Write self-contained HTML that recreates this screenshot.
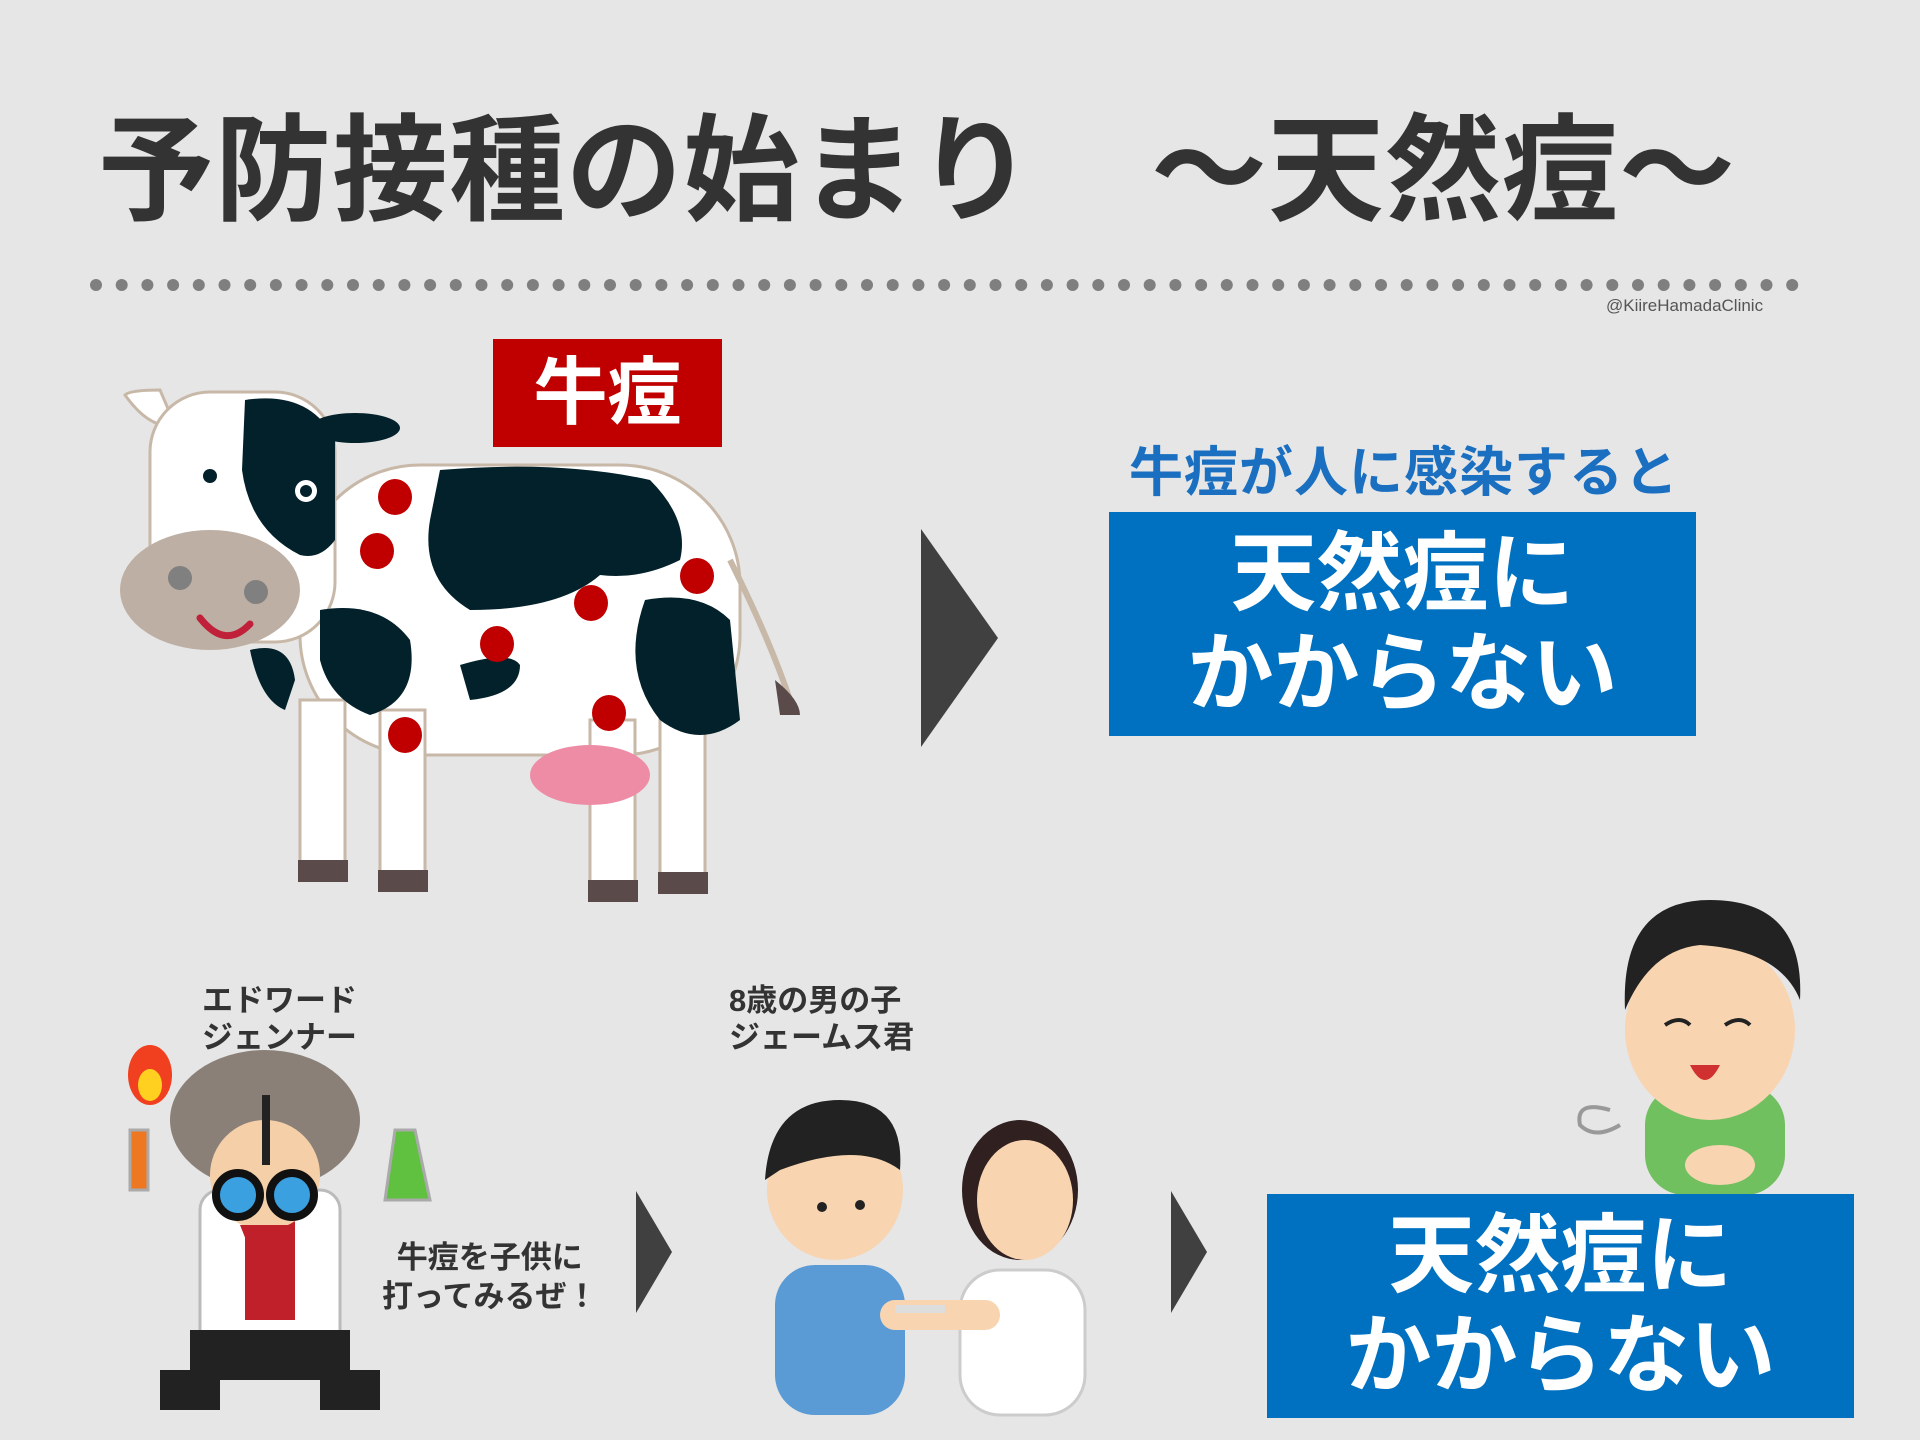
<!DOCTYPE html>
<html><head><meta charset="utf-8">
<style>
html,body{margin:0;padding:0}
body{width:1920px;height:1440px;background:#e6e6e6;position:relative;overflow:hidden;font-family:"Liberation Sans","Noto Sans CJK JP",sans-serif}
.t{position:absolute;white-space:nowrap;font-weight:bold}
.box{position:absolute;background:#0070c0;color:#fff;font-weight:bold;text-align:center}
</style></head><body>
<div class="t" style="left:98px;top:106px;font-size:116px;line-height:130px;color:#333;letter-spacing:1px">予防接種の始まり　～天然痘～</div>
<svg width="1920" height="1440" style="position:absolute;left:0;top:0">
<g fill="#7f7f7f" id="dots"></g>
<polygon points="921,529 998,638 921,747" fill="#404040"/>
<polygon points="636,1191 672,1252 636,1313" fill="#404040"/>
<polygon points="1171,1191 1207,1252 1171,1313" fill="#404040"/>
<g stroke="#c8b8a8" stroke-width="3">
<rect x="300" y="465" width="440" height="290" rx="120" fill="#fff"/>
<rect x="300" y="700" width="45" height="170" fill="#fff"/>
<rect x="380" y="710" width="45" height="170" fill="#fff"/>
<rect x="590" y="720" width="45" height="170" fill="#fff"/>
<rect x="660" y="710" width="45" height="170" fill="#fff"/>
<path d="M730 560 Q770 640 790 700" fill="none" stroke-width="6"/>
<path d="M160 390 Q130 390 125 395 Q150 430 175 425Z" fill="#fff"/>
<rect x="150" y="392" width="185" height="250" rx="60" fill="#fff"/>
</g>
<rect x="298" y="860" width="50" height="22" fill="#5a4a4a"/>
<rect x="378" y="870" width="50" height="22" fill="#5a4a4a"/>
<rect x="588" y="880" width="50" height="22" fill="#5a4a4a"/>
<rect x="658" y="872" width="50" height="22" fill="#5a4a4a"/>
<path d="M775 680 Q800 700 800 715 L780 715Z" fill="#5a4a4a"/>
<ellipse cx="590" cy="775" rx="60" ry="30" fill="#ee8ca5"/>
<g fill="#03212a">
<path d="M245 400 Q310 390 335 440 L335 540 Q320 560 300 555 Q250 530 242 470Z"/>
<ellipse cx="355" cy="428" rx="45" ry="15"/>
<path d="M440 470 Q560 460 650 480 Q690 520 680 560 Q640 580 600 575 Q560 610 470 610 Q420 580 430 520Z"/>
<path d="M320 610 Q380 600 410 640 Q420 700 370 715 Q330 700 320 660Z"/>
<path d="M460 665 Q510 650 520 665 Q520 695 470 700Z"/>
<path d="M645 600 Q700 590 730 620 L740 720 Q700 750 660 720 Q620 670 645 600Z"/>
<path d="M250 650 Q290 640 295 680 L285 710 Q260 700 250 650Z"/>
</g>
<circle cx="306" cy="491" r="11" fill="#fff"/><circle cx="306" cy="491" r="6" fill="#03212a"/>
<circle cx="210" cy="476" r="7" fill="#03212a"/>
<ellipse cx="210" cy="590" rx="90" ry="60" fill="#bdafa3"/>
<circle cx="180" cy="578" r="12" fill="#808080"/><circle cx="256" cy="592" r="12" fill="#808080"/>
<path d="M200 618 Q225 650 250 624" stroke="#c0203a" stroke-width="7" fill="none" stroke-linecap="round"/>
<g fill="#c00000">
<ellipse cx="395" cy="497" rx="17" ry="18"/><ellipse cx="377" cy="551" rx="17" ry="18"/>
<ellipse cx="697" cy="576" rx="17" ry="18"/><ellipse cx="591" cy="603" rx="17" ry="18"/>
<ellipse cx="497" cy="644" rx="17" ry="18"/><ellipse cx="609" cy="713" rx="17" ry="18"/>
<ellipse cx="405" cy="735" rx="17" ry="18"/>
</g>
<ellipse cx="265" cy="1120" rx="95" ry="70" fill="#8a8078"/>
<rect x="200" y="1190" width="140" height="170" rx="20" fill="#fff" stroke="#bbb" stroke-width="3"/>
<rect x="245" y="1200" width="50" height="120" fill="#c0202a"/>
<rect x="190" y="1330" width="160" height="50" fill="#222"/>
<rect x="160" y="1370" width="60" height="40" fill="#222"/><rect x="320" y="1370" width="60" height="40" fill="#222"/>
<ellipse cx="265" cy="1175" rx="55" ry="55" fill="#f5cfa8"/>
<circle cx="238" cy="1195" r="22" fill="#3aa0e0" stroke="#111" stroke-width="8"/><circle cx="292" cy="1195" r="22" fill="#3aa0e0" stroke="#111" stroke-width="8"/>
<path d="M240 1225 L290 1225 L280 1250 L250 1250Z" fill="#c0202a"/>
<rect x="262" y="1095" width="8" height="70" fill="#222"/>
<ellipse cx="150" cy="1075" rx="22" ry="30" fill="#f04020"/><ellipse cx="150" cy="1085" rx="12" ry="16" fill="#ffd020"/>
<rect x="130" y="1130" width="18" height="60" fill="#ee7722" stroke="#aaa" stroke-width="3"/>
<path d="M395 1130 L385 1200 L430 1200 L415 1130Z" fill="#60c040" stroke="#aaa" stroke-width="3"/>
<ellipse cx="1020" cy="1190" rx="58" ry="70" fill="#302020"/>
<rect x="960" y="1270" width="125" height="145" rx="40" fill="#fff" stroke="#ccc" stroke-width="3"/>
<ellipse cx="1025" cy="1200" rx="48" ry="60" fill="#f8d4b0"/>
<rect x="775" y="1265" width="130" height="150" rx="40" fill="#5a9bd5"/>
<ellipse cx="835" cy="1190" rx="68" ry="70" fill="#f8d4b0"/>
<path d="M765 1180 Q770 1100 840 1100 Q905 1100 900 1170 Q860 1140 780 1170Z" fill="#222"/>
<circle cx="822" cy="1207" r="5" fill="#222"/><circle cx="860" cy="1205" r="5" fill="#222"/>
<rect x="880" y="1300" width="120" height="30" rx="15" fill="#f8d4b0"/>
<rect x="895" y="1305" width="50" height="8" fill="#ddd"/>
<rect x="1645" y="1085" width="140" height="110" rx="40" fill="#70c060"/>
<ellipse cx="1710" cy="1030" rx="85" ry="90" fill="#f8d4b0"/>
<path d="M1625 1010 Q1620 900 1710 900 Q1805 900 1800 1000 Q1780 950 1700 945 Q1650 950 1625 1010Z" fill="#222"/>
<path d="M1665 1025 Q1680 1015 1690 1025 M1725 1025 Q1740 1015 1750 1025" stroke="#222" stroke-width="4" fill="none"/>
<path d="M1690 1065 Q1705 1095 1720 1065Z" fill="#d03030"/>
<ellipse cx="1720" cy="1165" rx="35" ry="20" fill="#f8d4b0"/>
<path d="M1610 1110 Q1575 1100 1580 1125 Q1595 1140 1620 1125" stroke="#999" stroke-width="4" fill="none"/>
</svg>
<div class="t" style="left:1606px;top:296px;font-size:17px;font-weight:normal;color:#555">@KiireHamadaClinic</div>
<div class="box" style="left:493px;top:339px;width:229px;height:108px;background:#c00000;font-size:74px;line-height:108px">牛痘</div>
<div class="t" style="left:1129px;top:440px;font-size:54px;line-height:66px;color:#1a6fc0;letter-spacing:1px">牛痘が人に感染すると</div>
<div class="box" style="left:1109px;top:512px;width:587px;height:224px;font-size:86px;line-height:100px;padding-top:12px;box-sizing:border-box">天然痘に<br>かからない</div>
<div class="box" style="left:1267px;top:1194px;width:587px;height:224px;font-size:86px;line-height:100px;padding-top:12px;box-sizing:border-box">天然痘に<br>かからない</div>
<div class="t" style="left:202px;top:982px;font-size:31px;line-height:37px;color:#333">エドワード<br>ジェンナー</div>
<div class="t" style="left:729px;top:982px;font-size:31px;line-height:37px;color:#333">8歳の男の子<br>ジェームス君</div>
<div class="t" style="left:382px;top:1238px;font-size:31px;line-height:39px;color:#333;text-align:center">牛痘を子供に<br>打ってみるぜ！</div>
<script>
var g=document.getElementById('dots'),s='';
for(var i=0;i<67;i++){s+='<circle cx="'+(96+i*25.7)+'" cy="285" r="6"/>';}
g.innerHTML=s;
</script>
</body></html>
